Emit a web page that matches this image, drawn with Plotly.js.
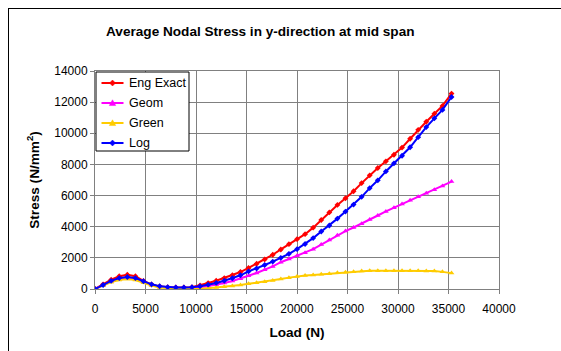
<!DOCTYPE html>
<html>
<head>
<meta charset="utf-8">
<script src="https://cdn.plot.ly/plotly-3.0.1.min.js"></script>
<style>
html,body{margin:0;padding:0;background:#fff;}
#wrap{position:relative;width:561px;height:351px;overflow:hidden;}
#frame{position:absolute;left:8px;top:8px;width:600px;height:400px;border-left:1px solid #000;border-top:1px solid #000;}
#chart{position:absolute;left:0;top:0;width:561px;height:351px;}
</style>
</head>
<body>
<div id="wrap"><div id="frame"></div><div id="chart"></div></div>
<script>
const load = [0,800,1600,2400,3200,4000,4800,5600,6400,7200,8000,8800,9600,10400,11200,12000,12800,13600,14400,15200,16000,16800,17600,18400,19200,20000,20800,21600,22400,23200,24000,24800,25600,26400,27200,28000,28800,29600,30400,31200,32000,32800,33600,34400,35300];
const engExact = [0,300,600,820,920,820,520,290,170,120,100,100,120,230,380,530,700,880,1090,1350,1620,1900,2200,2540,2880,3200,3520,3940,4430,4920,5400,5830,6280,6800,7300,7770,8200,8620,9080,9650,10220,10740,11260,11760,12550];
const geom = [0,230,480,640,700,640,450,260,140,80,60,50,60,110,190,280,390,510,660,850,1030,1230,1450,1720,1920,2130,2330,2560,2850,3150,3450,3720,3950,4190,4470,4720,4980,5220,5460,5700,5920,6150,6380,6620,6900];
const green = [0,210,440,580,640,580,400,220,100,40,10,0,0,20,50,90,140,190,250,330,400,470,550,640,730,810,860,900,940,980,1040,1080,1110,1150,1180,1180,1180,1180,1170,1170,1170,1160,1150,1100,1020];
const logS = [0,260,520,700,770,700,500,300,180,120,100,100,110,180,280,390,530,690,880,1130,1320,1540,1760,2000,2260,2560,2890,3270,3690,4080,4520,4970,5420,5920,6480,6980,7550,8070,8560,9100,9750,10400,10960,11500,12330];
const seriesNames = ["Eng Exact","Geom","Green","Log"];
const seriesColors = ['#FF0000','#FF00FF','#FFCC00','#0000FF'];
const seriesSymbols = ['diamond','triangle-up','triangle-up','diamond'];
const xTicks = [0,5000,10000,15000,20000,25000,30000,35000,40000];
const yTicks = [0,2000,4000,6000,8000,10000,12000,14000];

const F = "Liberation Sans, Arial, sans-serif";
const W = 561, H = 351, ML = 95, MR = 62, MT = 71, MB = 62;
const PW = W - ML - MR, PH = H - MT - MB;
const px = v => (v - ML) / PW;
const py = v => (H - MB - v) / PH;

const series = [engExact, geom, green, logS];
const data = series.map((y, i) => ({
  x: load, y: y, name: seriesNames[i], type: 'scatter', mode: 'lines+markers',
  line: {color: seriesColors[i], width: 2},
  marker: {color: seriesColors[i], symbol: seriesSymbols[i], size: seriesSymbols[i] === 'diamond' ? 4.5 : 5}
}));

// manual legend
const shapes = [{type: 'rect', xref: 'paper', yref: 'paper', x0: px(96), x1: px(189), y0: py(72), y1: py(151),
  line: {color: '#000', width: 1}, fillcolor: '#fff', layer: 'above'}];
const annotations = [];
seriesNames.forEach((n, i) => {
  const cy = 83 + 20 * i;
  shapes.push({type: 'line', xref: 'paper', yref: 'paper', x0: px(101.5), x1: px(123.5), y0: py(cy), y1: py(cy),
    line: {color: seriesColors[i], width: 2}, layer: 'above'});
  const cx = 112.5;
  let path;
  if (seriesSymbols[i] === 'diamond') {
    const r = 3;
    path = `M${px(cx)},${py(cy - r)} L${px(cx + r)},${py(cy)} L${px(cx)},${py(cy + r)} L${px(cx - r)},${py(cy)} Z`;
  } else {
    const r = 3.2;
    path = `M${px(cx)},${py(cy - r)} L${px(cx + r)},${py(cy + r * 0.8)} L${px(cx - r)},${py(cy + r * 0.8)} Z`;
  }
  shapes.push({type: 'path', xref: 'paper', yref: 'paper', path: path, fillcolor: seriesColors[i],
    line: {color: seriesColors[i], width: 0.5}, layer: 'above'});
  annotations.push({xref: 'paper', yref: 'paper', x: px(127), y: py(cy), xanchor: 'left', yanchor: 'middle',
    text: n, showarrow: false, font: {family: F, size: 12.5, color: '#000'}});
});

const layout = {
  width: W, height: H,
  margin: {l: ML, r: MR, t: MT, b: MB},
  paper_bgcolor: 'rgba(0,0,0,0)', plot_bgcolor: '#fff',
  font: {family: F, size: 12, color: '#000'},
  title: {text: '<b>Average Nodal Stress in y-direction at mid span</b>', font: {family: F, size: 13.6, color: '#000'},
    x: 0.464, xanchor: 'center', y: 0.91, yanchor: 'middle'},
  xaxis: {range: [0, 40000], tickvals: xTicks, ticktext: xTicks.map(String), showgrid: true, gridcolor: '#808080', gridwidth: 1,
    showline: true, linecolor: '#808080', linewidth: 1, mirror: true, ticks: 'outside', ticklen: 4, tickcolor: '#808080',
    zeroline: false, tickfont: {family: F, size: 12}, ticklabelstandoff: 5,
    title: {text: '<b>Load (N)</b>', font: {family: F, size: 13.6}, standoff: 12}},
  yaxis: {range: [0, 14000], tickvals: yTicks, ticktext: yTicks.map(String), showgrid: true, gridcolor: '#808080', gridwidth: 1,
    showline: true, linecolor: '#808080', linewidth: 1, mirror: true, ticks: 'outside', ticklen: 4, tickcolor: '#808080',
    zeroline: false, tickfont: {family: F, size: 12},
    title: {text: '<b>Stress (N/mm<sup>2</sup>)</b>', font: {family: F, size: 13.6}, standoff: 11}},
  shapes: shapes,
  annotations: annotations,
  showlegend: false
};
Plotly.newPlot('chart', data, layout, {displayModeBar: false, staticPlot: true});
</script>
</body>
</html>
